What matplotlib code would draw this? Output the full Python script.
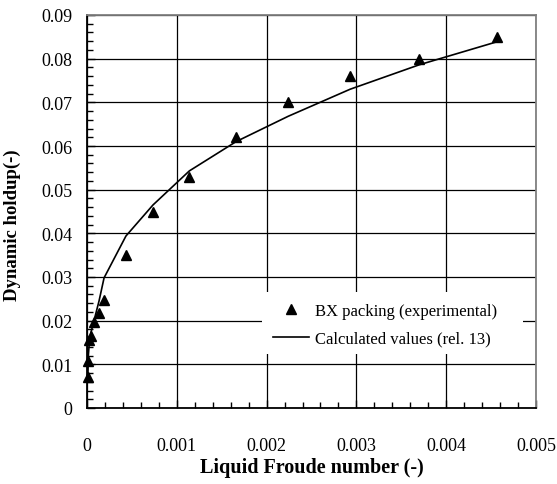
import matplotlib
matplotlib.use("Agg")
import matplotlib.pyplot as plt
from matplotlib.ticker import MultipleLocator, FixedFormatter, FixedLocator
from matplotlib.patches import Rectangle

# Data
froude_exp = [0.00001, 0.000015, 0.000026, 0.00004, 0.000078, 0.000134, 0.00019,
              0.000434, 0.000735, 0.00114, 0.00166, 0.00224, 0.00293, 0.0037, 0.00457]
holdup_exp = [0.0071, 0.0108, 0.0155, 0.0166, 0.0198, 0.0218, 0.0248,
              0.0350, 0.0450, 0.0530, 0.0620, 0.0700, 0.0760, 0.0800, 0.0850]
froude_calc = [0.00001, 0.000015, 0.000026, 0.00004, 0.000078, 0.000134, 0.00019,
               0.000434, 0.000735, 0.00114, 0.00166, 0.00224, 0.00293, 0.0037, 0.00457]
holdup_calc = [0.0075, 0.0120, 0.0150, 0.0170, 0.0200, 0.0245, 0.0298,
               0.0394, 0.0465, 0.0543, 0.0610, 0.0668, 0.0730, 0.0786, 0.0839]
xticks = [0, 0.001, 0.002, 0.003, 0.004, 0.005]
xtick_labels = ["0", "0.001", "0.002", "0.003", "0.004", "0.005"]
yticks = [0, 0.01, 0.02, 0.03, 0.04, 0.05, 0.06, 0.07, 0.08, 0.09]
ytick_labels = ["0", "0.01", "0.02", "0.03", "0.04", "0.05", "0.06", "0.07", "0.08", "0.09"]

plt.rcParams['font.family'] = ['Liberation Serif', 'DejaVu Serif']

fig = plt.figure(figsize=(5.57, 4.85), dpi=100)
ax = fig.add_axes([87/557, 1 - 409/485, 449/557, 393/485])

ax.set_xlim(0, 0.005)
ax.set_ylim(0, 0.09)
ax.xaxis.set_major_locator(FixedLocator(xticks))
ax.xaxis.set_major_formatter(FixedFormatter(xtick_labels))
ax.yaxis.set_major_locator(FixedLocator(yticks))
ax.yaxis.set_major_formatter(FixedFormatter(ytick_labels))
ax.xaxis.set_minor_locator(MultipleLocator(0.0002))
ax.yaxis.set_minor_locator(MultipleLocator(0.002))
ax.grid(True, which='major', color='black', linewidth=0.9)
ax.set_axisbelow(True)
ax.tick_params(which='both', direction='in', labelsize=13, colors='black')
ax.tick_params(which='major', length=6, width=1)
ax.tick_params(which='minor', length=4, width=1)
ax.tick_params(axis='x', which='major', pad=21)
ax.tick_params(axis='y', which='major', pad=10.5)

for s in ['left', 'bottom']:
    ax.spines[s].set_color('black')
    ax.spines[s].set_linewidth(1.3)
for s in ['top', 'right']:
    ax.spines[s].set_color('#808080')
    ax.spines[s].set_linewidth(1.3)

# white legend background
ax.add_patch(Rectangle((0.389, 0.137), 0.582, 0.158, transform=ax.transAxes,
                       facecolor='white', edgecolor='none', zorder=1.5))

ax.plot(froude_calc, holdup_calc, color='black', linewidth=1.2,
        label='Calculated values (rel. 13)', zorder=3)
ax.plot(froude_exp, holdup_exp, linestyle='none', marker='^', color='black',
        markersize=7, label='BX packing (experimental)', zorder=4, clip_on=False)

h, l = ax.get_legend_handles_labels()
leg = ax.legend([h[1], h[0]], [l[1], l[0]], loc='upper left',
                bbox_to_anchor=(0.407, 0.276), frameon=False, fontsize=12,
                handlelength=2.15, handletextpad=0.36, labelspacing=0.72,
                borderaxespad=0, borderpad=0.2)

ax.set_xlabel('Liquid Froude number (-)', fontsize=14.5, fontweight='bold')
ax.set_ylabel('Dynamic holdup(-)', fontsize=13.5, fontweight='bold')
ax.xaxis.set_label_coords(0.5, -0.125)
ax.yaxis.set_label_coords(-0.148, 0.467)

fig.savefig('out.png', dpi=100)
